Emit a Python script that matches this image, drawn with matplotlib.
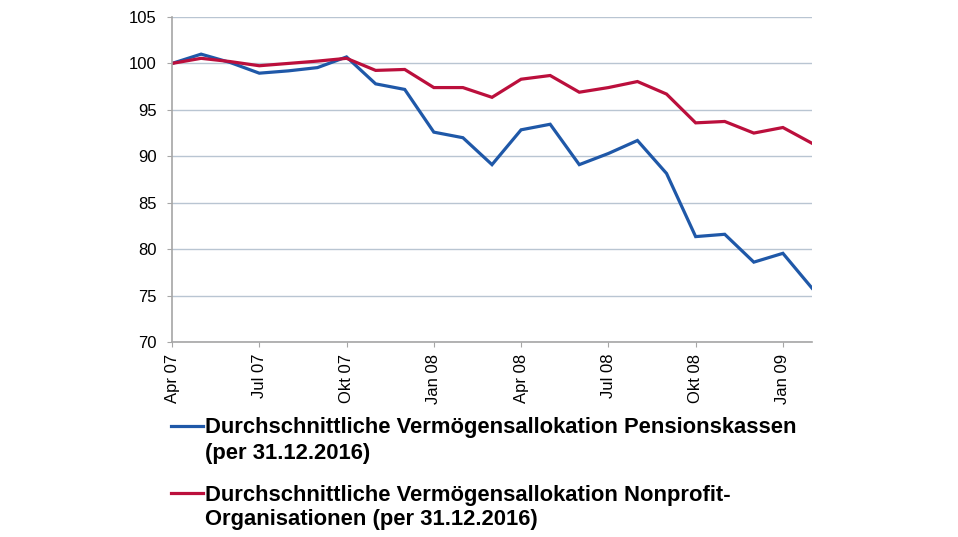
import numpy as np
import matplotlib
matplotlib.use("Agg")
import matplotlib.pyplot as plt
from matplotlib.lines import Line2D

plt.rcParams['font.family'] = ['Liberation Sans', 'DejaVu Sans']

# monthly index values, Apr 07 .. Feb 09
months = ['Apr 07', 'Mai 07', 'Jun 07', 'Jul 07', 'Aug 07', 'Sep 07', 'Okt 07', 'Nov 07', 'Dez 07',
          'Jan 08', 'Feb 08', 'Mrz 08', 'Apr 08', 'Mai 08', 'Jun 08', 'Jul 08', 'Aug 08', 'Sep 08',
          'Okt 08', 'Nov 08', 'Dez 08', 'Jan 09', 'Feb 09']
pensionskassen = [100.0, 101.0, 100.1, 98.95, 99.2, 99.55, 100.7, 97.8, 97.2,
                  92.6, 92.0, 89.1, 92.85, 93.45, 89.1, 90.3, 91.7, 88.15,
                  81.35, 81.6, 78.6, 79.55, 75.8]
nonprofit = [100.0, 100.55, 100.2, 99.75, 100.0, 100.25, 100.55, 99.25, 99.35,
             97.4, 97.4, 96.35, 98.3, 98.7, 96.9, 97.4, 98.05, 96.7,
             93.6, 93.75, 92.5, 93.1, 91.4]
label_pk = ["Durchschnittliche Vermögensallokation Pensionskassen", "(per 31.12.2016)"]
label_np = ["Durchschnittliche Vermögensallokation Nonprofit-", "Organisationen (per 31.12.2016)"]

blue = '#1f58a8'
red = '#bb0f3c'
grid_c = '#b9c5d2'
axis_c = '#a6a6a6'

W, H = 958, 537
fig = plt.figure(figsize=(W / 100, H / 100), dpi=100)
ax = fig.add_axes([172 / W, 1 - 342 / H, (812 - 172) / W, (342 - 17) / H])

x = np.arange(len(months))
ax.plot(x, pensionskassen, color=blue, lw=2.3, solid_joinstyle='miter')
ax.plot(x, nonprofit, color=red, lw=2.3, solid_joinstyle='miter')

ax.set_xlim(0, len(months) - 1)
ax.set_ylim(70, 105)
ax.set_yticks(np.arange(70, 106, 5))
ax.set_xticks(x[::3])
ax.set_xticklabels(months[::3], rotation=90, fontsize=12)
ax.tick_params(axis='y', labelsize=12, length=3.6, color=axis_c, pad=7.5)
ax.tick_params(axis='x', length=3.6, color=axis_c, pad=5)

ax.yaxis.grid(True, color=grid_c, lw=1)
ax.set_axisbelow(True)
for s in ['top', 'right']:
    ax.spines[s].set_visible(False)
for s in ['left', 'bottom']:
    ax.spines[s].set_color(axis_c)
    ax.spines[s].set_linewidth(1.2)

# legend below the plot, swatch aligned with first text line
for i, (lines, col) in enumerate([(label_pk, blue), (label_np, red)]):
    yline = 426 + i * 67
    fig.add_artist(Line2D([171 / W, 203 / W], [1 - yline / H, 1 - yline / H],
                          color=col, lw=2.3, transform=fig.transFigure))
    for j, txt in enumerate(lines):
        fig.text(205 / W, 1 - (yline + 7.5 + j * 25) / H, txt, fontsize=15.8,
                 fontweight='bold', va='baseline', ha='left')

fig.savefig('out.png', dpi=100)
